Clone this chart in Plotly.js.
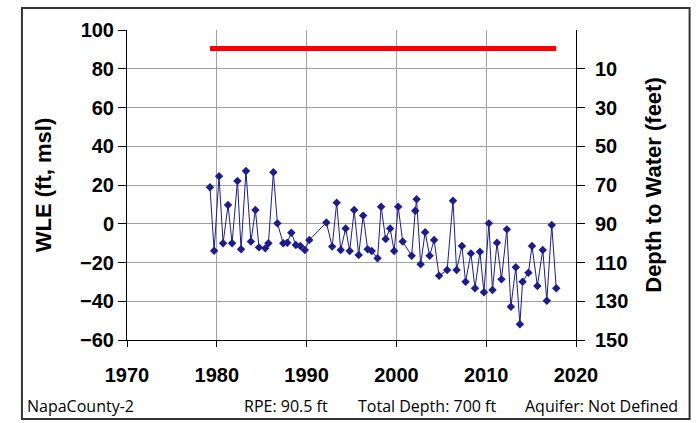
<!DOCTYPE html>
<html>
<head>
<meta charset="utf-8">
<script src="https://cdn.plot.ly/plotly-3.0.1.min.js"></script>
<style>html,body{margin:0;padding:0;background:#fff;}#chart{width:699px;height:423px;}</style>
</head>
<body>
<div id="chart"></div>
<script>
// Measurement dates (decimal years) and water level elevations (ft, msl)
const years = [1979.24,1979.7,1980.25,1980.7,1981.25,1981.7,1982.3,1982.7,1983.25,1983.8,1984.3,1984.7,1985.4,1985.75,1986.3,1986.75,1987.4,1987.85,1988.3,1988.8,1989.3,1989.8,1990.3,1992.2,1992.85,1993.35,1993.8,1994.35,1994.8,1995.3,1995.8,1996.3,1996.8,1997.25,1997.9,1998.3,1998.8,1999.3,1999.75,2000.2,2000.7,2001.7,2002.1,2002.25,2002.7,2003.2,2003.7,2004.2,2004.75,2005.65,2006.3,2006.7,2007.3,2007.7,2008.3,2008.75,2009.3,2009.75,2010.3,2010.7,2011.2,2011.7,2012.3,2012.75,2013.3,2013.75,2014.05,2014.7,2015.1,2015.7,2016.3,2016.75,2017.3,2017.8];
const wle = [18.8,-13.9,24.5,-10.1,9.7,-10.1,22.1,-13.2,27.2,-9.2,7.1,-12.2,-12.7,-10.1,26.6,0.2,-10.1,-9.8,-4.6,-11,-11.5,-13.5,-8.4,0.6,-11.8,10.9,-13.5,-2.4,-14.1,7.1,-16.1,4.2,-13.2,-14.1,-17.8,8.8,-7.9,-2.4,-14.1,8.8,-9.2,-16.5,6.7,12.6,-20.9,-4.4,-16.5,-8.4,-26.8,-23.9,11.9,-23.9,-11.5,-29.9,-15.3,-33.3,-14.4,-35.4,0.2,-34.2,-9.8,-28.7,-2.9,-42.8,-22.5,-51.9,-29.9,-25.3,-11.5,-32.1,-13.5,-39.7,-0.6,-33.3];
const rpe = 90.5;
const rpeYears = [years[0], years[years.length-1]];
const rpeLevels = [rpe, rpe];
const xTicks = [1970,1980,1990,2000,2010,2020];
const yTicks = [-60,-40,-20,0,20,40,60,80,100];
const depthTicks = [10,30,50,70,90,110,130,150];
const footer = ["NapaCounty-2","RPE: 90.5 ft","Total Depth: 700 ft","Aquifer: Not Defined"];

const navy = '#1c1c8a';
const traces = [
  {x: rpeYears, y: rpeLevels, type:'scatter', mode:'lines', line:{color:'#ff0000', width:5}, hoverinfo:'skip', showlegend:false},
  {x: years, y: wle, type:'scatter', mode:'lines+markers', line:{color:navy, width:1}, marker:{symbol:'diamond', size:6.5, color:navy}, showlegend:false},
  // invisible trace for the depth axis
  {x: rpeYears, y: rpeLevels.map(v => rpe - v), yaxis:'y2', type:'scatter', mode:'none', hoverinfo:'skip', showlegend:false}
];

const tickFont = {family:'Liberation Sans, Arial, sans-serif', size:20, color:'#000', weight:'bold'};
const titleFont = {family:'Liberation Sans, Arial, sans-serif', size:22, color:'#000', weight:'bold'};
const footFont = {family:'"Open Sans", sans-serif', size:16, color:'#000'};

const footX = [-0.227, 0.354, 0.668, 1.2316];
const footAnchor = ['left','center','center','right'];
const annotations = footer.map((t,i) => ({
  text: t, xref:'paper', yref:'paper', x: footX[i], y: -0.213, xanchor:footAnchor[i], yanchor:'middle', showarrow:false, font: footFont
}));

const layout = {
  width: 699, height: 423,
  margin: {l:127, r:123, t:30, b:83},
  paper_bgcolor:'#fff', plot_bgcolor:'#fff',
  showlegend:false,
  xaxis: {range:[1970,2020], tickvals:xTicks, ticks:'outside', ticklen:6, tickcolor:'#000',
          showline:true, linecolor:'#000', linewidth:1, showgrid:true, gridcolor:'#a0a0a0', gridwidth:1,
          zeroline:false, tickfont:tickFont, ticklabelstandoff:11},
  yaxis: {range:[-60,100], tickvals:yTicks, ticks:'outside', ticklen:8, tickcolor:'#000',
          showline:true, linecolor:'#000', linewidth:1, showgrid:true, gridcolor:'#a0a0a0', gridwidth:1,
          zeroline:false, tickfont:tickFont,
          title:{text:'WLE (ft, msl)', font:titleFont, standoff:22}},
  yaxis2: {overlaying:'y', side:'right', range:[rpe+60-0.5, rpe-100-0.5], tickvals:depthTicks, ticks:'outside', ticklen:8, tickcolor:'#000',
          showline:true, linecolor:'#000', linewidth:1, showgrid:false, zeroline:false, tickfont:tickFont, ticklabelstandoff:6,
          title:{text:'Depth to Water (feet)', font:titleFont, standoff:18}},
  annotations: annotations,
  shapes: [
    {type:'rect', xref:'paper', yref:'paper', x0:-0.234, x1:1.253, y0:-0.255, y1:1.071, line:{color:'#333', width:2}, fillcolor:'rgba(0,0,0,0)', layer:'below'}
  ]
};

Plotly.newPlot('chart', traces, layout, {displayModeBar:false, staticPlot:true});
</script>
</body>
</html>
